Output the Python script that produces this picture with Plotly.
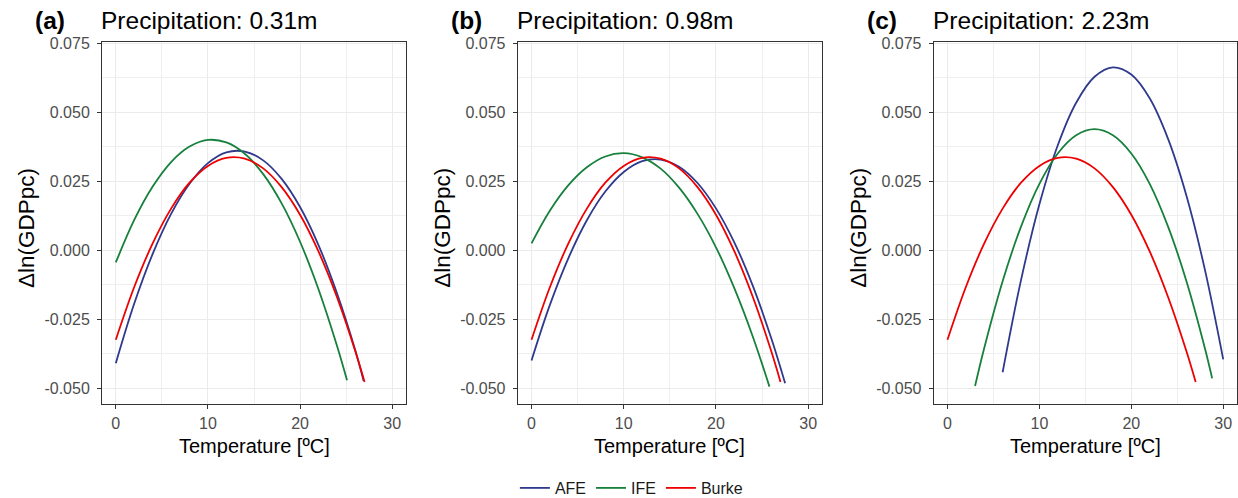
import plotly.graph_objects as go

# ---- data ----
panel_tags = ["(a)", "(b)", "(c)"]
panel_titles = ["Precipitation: 0.31m", "Precipitation: 0.98m", "Precipitation: 2.23m"]
series_names = ["AFE", "IFE", "Burke"]
series_colors = ["#2F3A8C", "#16803C", "#EE0000"]

# Burke (same in every panel)
burke_t = [0, 2, 4, 6, 8, 10, 12, 14, 16, 18, 20, 22, 24, 26, 27]
burke_y = [-0.0325, -0.0134, 0.0024, 0.0150, 0.0244, 0.0305, 0.0334, 0.0331,
           0.0296, 0.0228, 0.0128, -0.0005, -0.0170, -0.0367, -0.0478]

# Panel (a)
afe_a_t = [0, 2, 4, 6, 8, 10, 12, 14, 16, 18, 20, 22, 24, 26, 26.9]
afe_a_y = [-0.0410, -0.0194, -0.0014, 0.0131, 0.0240, 0.0315, 0.0354, 0.0357,
           0.0325, 0.0258, 0.0156, 0.0018, -0.0156, -0.0364, -0.0474]
ife_a_t = [0, 2, 4, 6, 8, 10, 12, 14, 16, 18, 20, 22, 24, 25.1]
ife_a_y = [-0.0045, 0.0109, 0.0230, 0.0319, 0.0375, 0.0399, 0.0390, 0.0349,
           0.0275, 0.0169, 0.0030, -0.0142, -0.0346, -0.0472]

# Panel (b)
afe_b_t = [0, 2, 4, 6, 8, 10, 12, 14, 16, 18, 20, 22, 24, 26, 27.5]
afe_b_y = [-0.0400, -0.0198, -0.0029, 0.0108, 0.0212, 0.0283, 0.0322, 0.0328,
           0.0302, 0.0243, 0.0151, 0.0027, -0.0130, -0.0320, -0.0483]
ife_b_t = [0, 2, 4, 6, 8, 10, 12, 14, 16, 18, 20, 22, 24, 25.8]
ife_b_y = [0.0024, 0.0143, 0.0235, 0.0300, 0.0339, 0.0351, 0.0336, 0.0295,
           0.0226, 0.0131, 0.0010, -0.0139, -0.0314, -0.0495]

# Panel (c)
afe_c_t = [6, 8, 10, 12, 14, 16, 18, 20, 22, 24, 26, 28, 30]
afe_c_y = [-0.0443, -0.0109, 0.0166, 0.0380, 0.0534, 0.0628, 0.0662, 0.0636,
           0.0550, 0.0403, 0.0197, -0.0070, -0.0396]
ife_c_t = [3, 4, 6, 8, 10, 12, 14, 16, 18, 20, 22, 24, 26, 28, 28.8]
ife_c_y = [-0.0493, -0.0355, -0.0113, 0.0085, 0.0240, 0.0350, 0.0416, 0.0438,
           0.0416, 0.0350, 0.0240, 0.0085, -0.0113, -0.0355, -0.0465]

x_ticks = [0, 10, 20, 30]
x_minor = [5, 15, 25]
y_ticks = [-0.050, -0.025, 0.000, 0.025, 0.050, 0.075]
y_tick_text = ["-0.050", "-0.025", "0.000", "0.025", "0.050", "0.075"]
y_minor = [-0.0375, -0.0125, 0.0125, 0.0375, 0.0625]

panels = [
    [(afe_a_t, afe_a_y), (ife_a_t, ife_a_y), (burke_t, burke_y)],
    [(afe_b_t, afe_b_y), (ife_b_t, ife_b_y), (burke_t, burke_y)],
    [(afe_c_t, afe_c_y), (ife_c_t, ife_c_y), (burke_t, burke_y)],
]

# ---- layout geometry (pixels) ----
W, H = 1238, 498
left_px = [102, 517.7, 933.7]
right_px = [406, 822, 1237]
top_px, bottom_px = 42, 404

FONT = "Liberation Sans, Arial, Helvetica, sans-serif"

fig = go.Figure()
for p, series in enumerate(panels):
    ax = "" if p == 0 else str(p + 1)
    for s, (tx, ty) in enumerate(series):
        fig.add_trace(go.Scatter(
            x=tx, y=ty, mode="lines", name=series_names[s],
            line=dict(color=series_colors[s], width=1.8, shape="spline", smoothing=1.0),
            xaxis="x" + ax, yaxis="y" + ax,
            showlegend=(p == 0), legendgroup=series_names[s],
        ))

layout = dict(
    width=W, height=H,
    margin=dict(l=0, r=0, t=0, b=0, autoexpand=False),
    paper_bgcolor="white", plot_bgcolor="white",
    font=dict(family=FONT, color="#000000"),
    showlegend=True,
    legend=dict(orientation="h", x=0.51, xanchor="center", y=(H - 488) / H, yanchor="middle",
                font=dict(size=16, color="#1A1A1A"), bgcolor="rgba(0,0,0,0)",
                itemwidth=30, tracegroupgap=0),
)

annotations = []
for p in range(3):
    ax = "" if p == 0 else str(p + 1)
    d0 = left_px[p] / W
    d1 = right_px[p] / W
    layout["xaxis" + ax] = dict(
        domain=[d0, d1], range=[-1.5, 31.5], anchor="y" + ax,
        tickmode="array", tickvals=x_ticks, ticktext=[str(v) for v in x_ticks],
        ticks="outside", ticklen=4, tickcolor="#333333", tickwidth=1,
        tickfont=dict(size=16, color="#4D4D4D", family=FONT),
        showline=True, mirror=True, linecolor="#333333", linewidth=1,
        showgrid=True, gridcolor="#EBEBEB", gridwidth=1.2, zeroline=False,
        minor=dict(tickmode="array", tickvals=x_minor, showgrid=True,
                   gridcolor="#EFEFEF", gridwidth=0.7, ticks=""),
        ticklabelstandoff=1, automargin=False,
    )
    layout["yaxis" + ax] = dict(
        domain=[(H - bottom_px) / H, (H - top_px) / H], range=[-0.0558, 0.0754],
        anchor="x" + ax,
        tickmode="array", tickvals=y_ticks, ticktext=y_tick_text,
        ticks="outside", ticklen=4, tickcolor="#333333", tickwidth=1,
        tickfont=dict(size=16, color="#4D4D4D", family=FONT),
        showline=True, mirror=True, linecolor="#333333", linewidth=1,
        showgrid=True, gridcolor="#EBEBEB", gridwidth=1.2, zeroline=False,
        minor=dict(tickmode="array", tickvals=y_minor, showgrid=True,
                   gridcolor="#EFEFEF", gridwidth=0.7, ticks=""),
        ticklabelstandoff=4, automargin=False,
    )
    cx = (left_px[p] + right_px[p]) / 2
    # panel tag
    annotations.append(dict(
        text="<b>" + panel_tags[p] + "</b>", x=(left_px[p] - 69) / W, y=(H - 20) / H,
        xref="paper", yref="paper", xanchor="left", yanchor="middle", showarrow=False,
        font=dict(size=24.5, color="#000000", family=FONT)))
    # panel title
    annotations.append(dict(
        text=panel_titles[p], x=(left_px[p] - 3) / W, y=(H - 20) / H,
        xref="paper", yref="paper", xanchor="left", yanchor="middle", showarrow=False,
        font=dict(size=24.5, color="#000000", family=FONT)))
    # x-axis title
    annotations.append(dict(
        text="Temperature [ºC]", x=cx / W, y=(H - 446) / H,
        xref="paper", yref="paper", xanchor="center", yanchor="middle", showarrow=False,
        font=dict(size=20, color="#000000", family=FONT)))
    # y-axis title
    annotations.append(dict(
        text="Δln(GDPpc)", x=(left_px[p] - 76) / W, y=(H - 228) / H,
        xref="paper", yref="paper", xanchor="center", yanchor="middle", showarrow=False,
        textangle=-90, font=dict(size=22.5, color="#000000", family=FONT)))

layout["annotations"] = annotations
fig.update_layout(**layout)
fig.write_html("out.html")
